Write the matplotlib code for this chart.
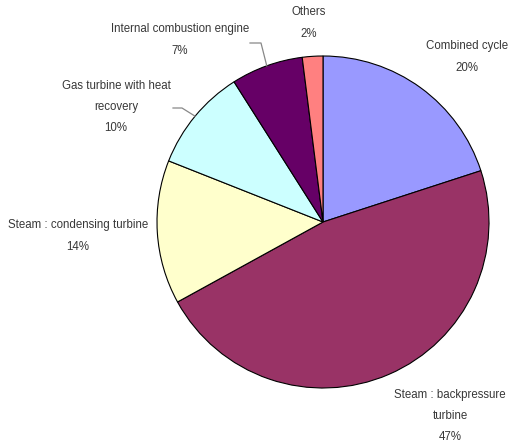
import numpy as np
import matplotlib.pyplot as plt

# Share of installed capacity by technology
labels = ['Combined cycle', 'Steam : backpressure\nturbine', 'Steam : condensing turbine',
          'Gas turbine with heat\nrecovery', 'Internal combustion engine', 'Others']
shares = [20, 47, 14, 10, 7, 2]
colors = ['#9999FF', '#993366', '#FFFFCC', '#CCFFFF', '#660066', '#FF8080']

W, H = 513, 445
cx, cy, R = 323, 222, 166


def px(x, y):
    # pixel position -> data coords (pie radius = 1)
    return (x - cx) / R, (cy - y) / R


plt.rcParams['font.family'] = ['Liberation Sans', 'DejaVu Sans']
fig = plt.figure(figsize=(W / 100, H / 100), dpi=100)
ax = fig.add_axes([0, 0, 1, 1])

wedges, _ = ax.pie(shares, colors=colors, startangle=90, counterclock=False, radius=1,
                   wedgeprops=dict(edgecolor='black', linewidth=0.8))

# pie() resets the limits, so fix them afterwards
ax.set_aspect('auto')
ax.set_xlim(-cx / R, (W - cx) / R)
ax.set_ylim(-(H - cy) / R, cy / R)
ax.axis('off')

# label text centres (pixels)
label_pos = [(467, 57), (450, 416), (78, 236), (116, 107), (180, 40), (309, 23)]
for lab, val, (lx, ly) in zip(labels, shares, label_pos):
    x, y = px(lx, ly)
    ax.text(x, y, f'{lab}\n{val}%', ha='center', va='center', fontsize=8.3,
            color='#383838', linespacing=2.02)

# leader lines for the two labels sitting away from their slices
for i, (sx, sy), elbow in [(3, (173, 108), (182, 108)), (4, (250, 43), (261, 43))]:
    w = wedges[i]
    mid = np.deg2rad((w.theta1 + w.theta2) / 2)
    ex, ey = np.cos(mid), np.sin(mid)
    p0 = px(sx, sy)
    p1 = px(*elbow)
    ax.plot([p0[0], p1[0], ex], [p0[1], p1[1], ey], color='#888888', lw=0.9)

fig.savefig('out.png', dpi=100)
